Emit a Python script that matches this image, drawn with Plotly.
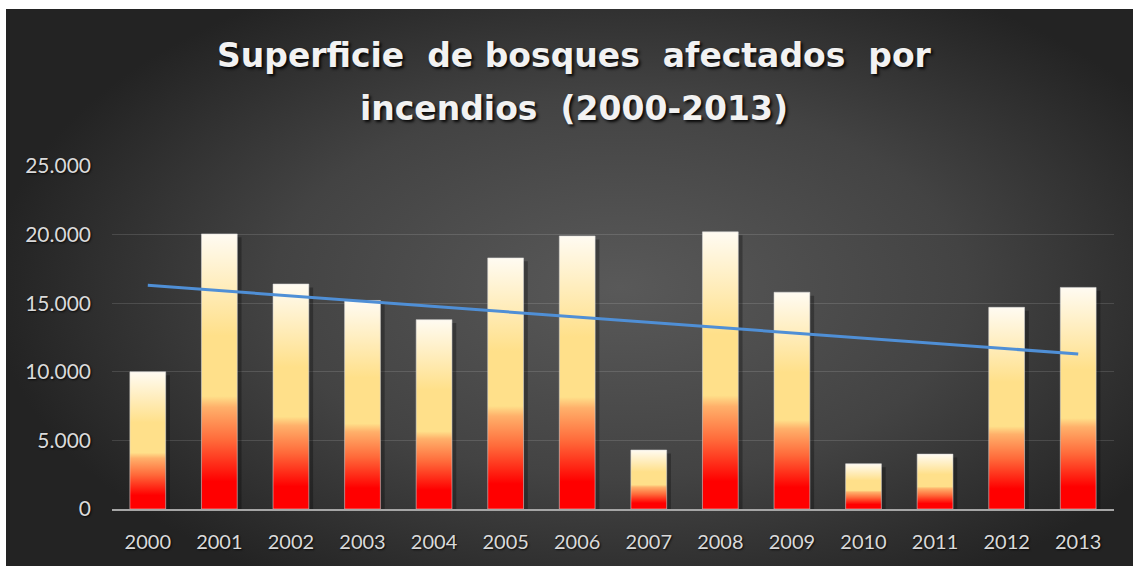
import base64
import plotly.graph_objects as go

# ---------------- data ----------------
years = ["2000", "2001", "2002", "2003", "2004", "2005", "2006",
         "2007", "2008", "2009", "2010", "2011", "2012", "2013"]
superficie = [10000, 20050, 16400, 15200, 13800, 18300, 19900,
              4300, 20200, 15800, 3300, 4000, 14700, 16150]
# linear trend line (as drawn in the reference), values at first and last year
trend_years = ["2000", "2013"]
trend_values = [16300, 11300]
y_ticks = [0, 5000, 10000, 15000, 20000, 25000]

title_lines = ["Superficie  de bosques  afectados  por",
               "incendios  (2000-2013)"]

# ---------------- styling ----------------
W, H = 1133, 566
ML, MR, MT, MB = 112, 19, 166, 57
BAR_HALF = 0.25
fire_scale = [
    [0.00, "#FF0000"],
    [0.10, "#FF0000"],
    [0.25, "#FF6A3A"],
    [0.37, "#FFB06A"],
    [0.41, "#FFE08A"],
    [0.63, "#FFE08A"],
    [1.00, "#FFFBF2"],
]

fig = go.Figure()

idx = {y: i for i, y in enumerate(years)}
for i, v in enumerate(superficie):
    # drop shadow
    fig.add_trace(go.Scatter(
        x=[i - BAR_HALF + 0.06, i - BAR_HALF + 0.06, i + BAR_HALF + 0.06, i + BAR_HALF + 0.06],
        y=[0, v - 250, v - 250, 0],
        fill="toself", mode="lines", line=dict(width=0),
        fillcolor="rgba(0,0,0,0.28)", hoverinfo="skip", showlegend=False))
    fig.add_trace(go.Scatter(
        x=[i - BAR_HALF, i - BAR_HALF, i + BAR_HALF, i + BAR_HALF, i - BAR_HALF],
        y=[0, v, v, 0, 0],
        fill="toself", mode="lines",
        line=dict(width=1, color="rgba(215,215,215,0.55)"),
        fillgradient=dict(type="vertical", colorscale=fire_scale),
        name=years[i], hovertemplate=years[i] + ": %{text}<extra></extra>",
        text=[f"{v:,}".replace(",", ".")] * 5,
        showlegend=False))

fig.add_trace(go.Scatter(
    x=[idx[y] for y in trend_years], y=trend_values,
    mode="lines", line=dict(color="#4F8FD6", width=3),
    hoverinfo="skip", showlegend=False))

pw, ph = W - ML - MR, H - MT - MB


def px_x(px):
    return (px - ML) / pw


def px_y(py):
    return (H - MB - py) / ph


# dark radial-gradient chart area (starts a few px inside the white page)
svg = (
    '<svg xmlns="http://www.w3.org/2000/svg" width="1127" height="557" '
    'viewBox="0 0 1127 557" preserveAspectRatio="none">'
    '<defs><radialGradient id="g" cx="55%" cy="50%" r="62%" '
    'gradientTransform="translate(0.05 0) scale(0.9 1)">'
    '<stop offset="0" stop-color="#595959"/>'
    '<stop offset="0.55" stop-color="#434343"/>'
    '<stop offset="1" stop-color="#232323"/>'
    '</radialGradient></defs>'
    '<rect x="0" y="0" width="1127" height="557" fill="url(#g)"/></svg>'
)
src = "data:image/svg+xml;base64," + base64.b64encode(svg.encode()).decode()
bx0, by0 = 6, 9
fig.add_layout_image(dict(
    source=src, xref="paper", yref="paper",
    x=px_x(bx0), y=px_y(by0),
    sizex=(W - bx0) / pw, sizey=(H - by0) / ph,
    xanchor="left", yanchor="top", sizing="stretch", layer="below"))

title_font = dict(family="DejaVu Sans", size=33, color="#F2F2F2", weight="bold",
                  shadow="2px 2px 3px rgba(0,0,0,0.9)")
for line, cy in zip(title_lines, [55.5, 108.5]):
    fig.add_annotation(
        text=line, xref="paper", yref="paper",
        x=px_x(574), y=px_y(cy), xanchor="center", yanchor="middle",
        showarrow=False, font=title_font)

fig.update_layout(
    width=W, height=H,
    margin=dict(l=ML, r=MR, t=MT, b=MB, pad=0),
    paper_bgcolor="white",
    plot_bgcolor="rgba(0,0,0,0)",
    separators=",.",
    font=dict(family="Lato", color="#D9D9D9"),
    showlegend=False,
)
tick_font = dict(family="Lato", size=20, color="#DADADA",
                 shadow="1px 1px 2px rgba(0,0,0,0.8)")
fig.update_xaxes(
    range=[-0.5, len(years) - 0.5],
    tickmode="array", tickvals=list(range(len(years))), ticktext=years,
    showgrid=False, zeroline=False,
    showline=True, linecolor="#A6A6A6", linewidth=2,
    ticks="", ticklabelstandoff=14, tickfont=tick_font,
    fixedrange=True)
fig.update_yaxes(
    range=[0, 25000], tickmode="array", tickvals=y_ticks,
    tickformat=",d", showgrid=True, gridcolor="rgba(255,255,255,0.13)",
    gridwidth=1, zeroline=False, showline=False, ticks="",
    ticklabelstandoff=20, tickfont=dict(tick_font, size=21),
    fixedrange=True)

fig.write_html("out.html", config={"displayModeBar": False},
               post_script="document.body.style.margin='0';document.body.style.overflow='hidden';")
